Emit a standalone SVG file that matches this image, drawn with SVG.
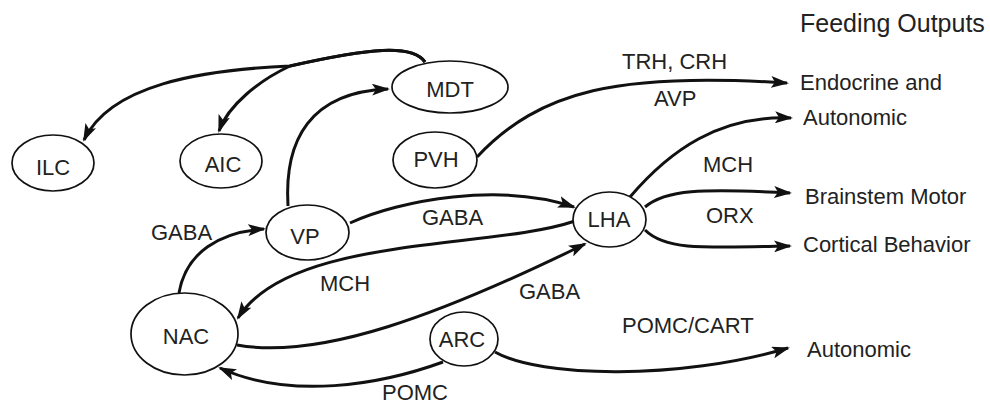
<svg xmlns="http://www.w3.org/2000/svg" width="990" height="404" viewBox="0 0 990 404">
<defs>
<marker id="ah" markerUnits="userSpaceOnUse" viewBox="0 0 18 12" refX="16" refY="6" markerWidth="18" markerHeight="12" orient="auto">
<path d="M0,0 L18,6 L0,12 L4,6 z" fill="#111"/>
</marker>
<style>
.n{fill:#fff;stroke:#111;stroke-width:1.7}
.e{fill:none;stroke:#111;stroke-width:3;marker-end:url(#ah)}
.p{fill:none;stroke:#111;stroke-width:3}
text{font-family:"Liberation Sans",Arial,sans-serif;font-size:22px;fill:#222}
.c{text-anchor:middle}
</style>
</defs>
<rect width="990" height="404" fill="#fff"/>
<g id="connectors">
<path class="e" d="M425,62 C412,44 370,48 290,66 C200,70 110,85 84,140"/>
<path class="e" d="M425,62 C412,44 370,48 290,66 C260,80 228,105 219,131"/>
<path class="e" d="M288,206 C284,140 310,92 388,89"/>
<path class="e" d="M477,157 C540,90 620,72 787,83"/>
<path class="e" d="M630,197 C670,150 720,115 791,118"/>
<path class="e" d="M645,207 C665,190 700,188 790,193"/>
<path class="e" d="M645,230 C665,250 700,248 790,246"/>
<path class="e" d="M495,352 C540,378 680,380 788,348"/>
<path class="e" d="M179,293 C186,252 220,232 264,229"/>
<path class="e" d="M350,223 C400,200 500,182 574,207"/>
<path class="e" d="M575,221 C490,250 290,235 238,318"/>
<path class="e" d="M237,345 C320,360 440,315 585,244"/>
<path class="e" d="M443,362 C380,385 290,400 220,368"/>
</g>
<g id="ILC"><ellipse class="n" cx="53" cy="163" rx="41" ry="28"/><text class="c" x="53" y="175">ILC</text></g>
<g id="AIC"><ellipse class="n" cx="221" cy="161" rx="41" ry="27"/><text class="c" x="223" y="172">AIC</text></g>
<g id="MDT"><ellipse class="n" cx="450" cy="87" rx="58" ry="26"/><text class="c" x="450" y="97">MDT</text></g>
<g id="PVH"><ellipse class="n" cx="435" cy="160" rx="42" ry="28"/><text class="c" x="436" y="167">PVH</text></g>
<g id="VP"><ellipse class="n" cx="307.5" cy="232.5" rx="41.5" ry="27.5"/><text class="c" x="305" y="244">VP</text></g>
<g id="LHA"><ellipse class="n" cx="609.5" cy="219.5" rx="36.5" ry="27.5"/><text class="c" x="609" y="227">LHA</text></g>
<g id="NAC"><ellipse class="n" cx="184.5" cy="334" rx="53.5" ry="41"/><text class="c" x="186" y="344">NAC</text></g>
<g id="ARC"><ellipse class="n" cx="464" cy="339" rx="34" ry="27"/><text class="c" x="462" y="347">ARC</text></g>
<g id="labels">
<text x="151" y="240">GABA</text>
<text x="422" y="225">GABA</text>
<text x="320" y="291">MCH</text>
<text x="519" y="299">GABA</text>
<text x="382" y="400">POMC</text>
<text x="622" y="333">POMC/CART</text>
<text x="622" y="69">TRH, CRH</text>
<text x="654" y="106">AVP</text>
<text x="703" y="172">MCH</text>
<text x="706" y="223">ORX</text>
</g>
<g id="outputs">
<text x="800" y="32" style="font-size:25px">Feeding Outputs</text>
<text x="800" y="90">Endocrine and</text>
<text x="803" y="125">Autonomic</text>
<text x="805" y="204">Brainstem Motor</text>
<text x="803" y="252">Cortical Behavior</text>
<text x="807" y="357">Autonomic</text>
</g>
</svg>
